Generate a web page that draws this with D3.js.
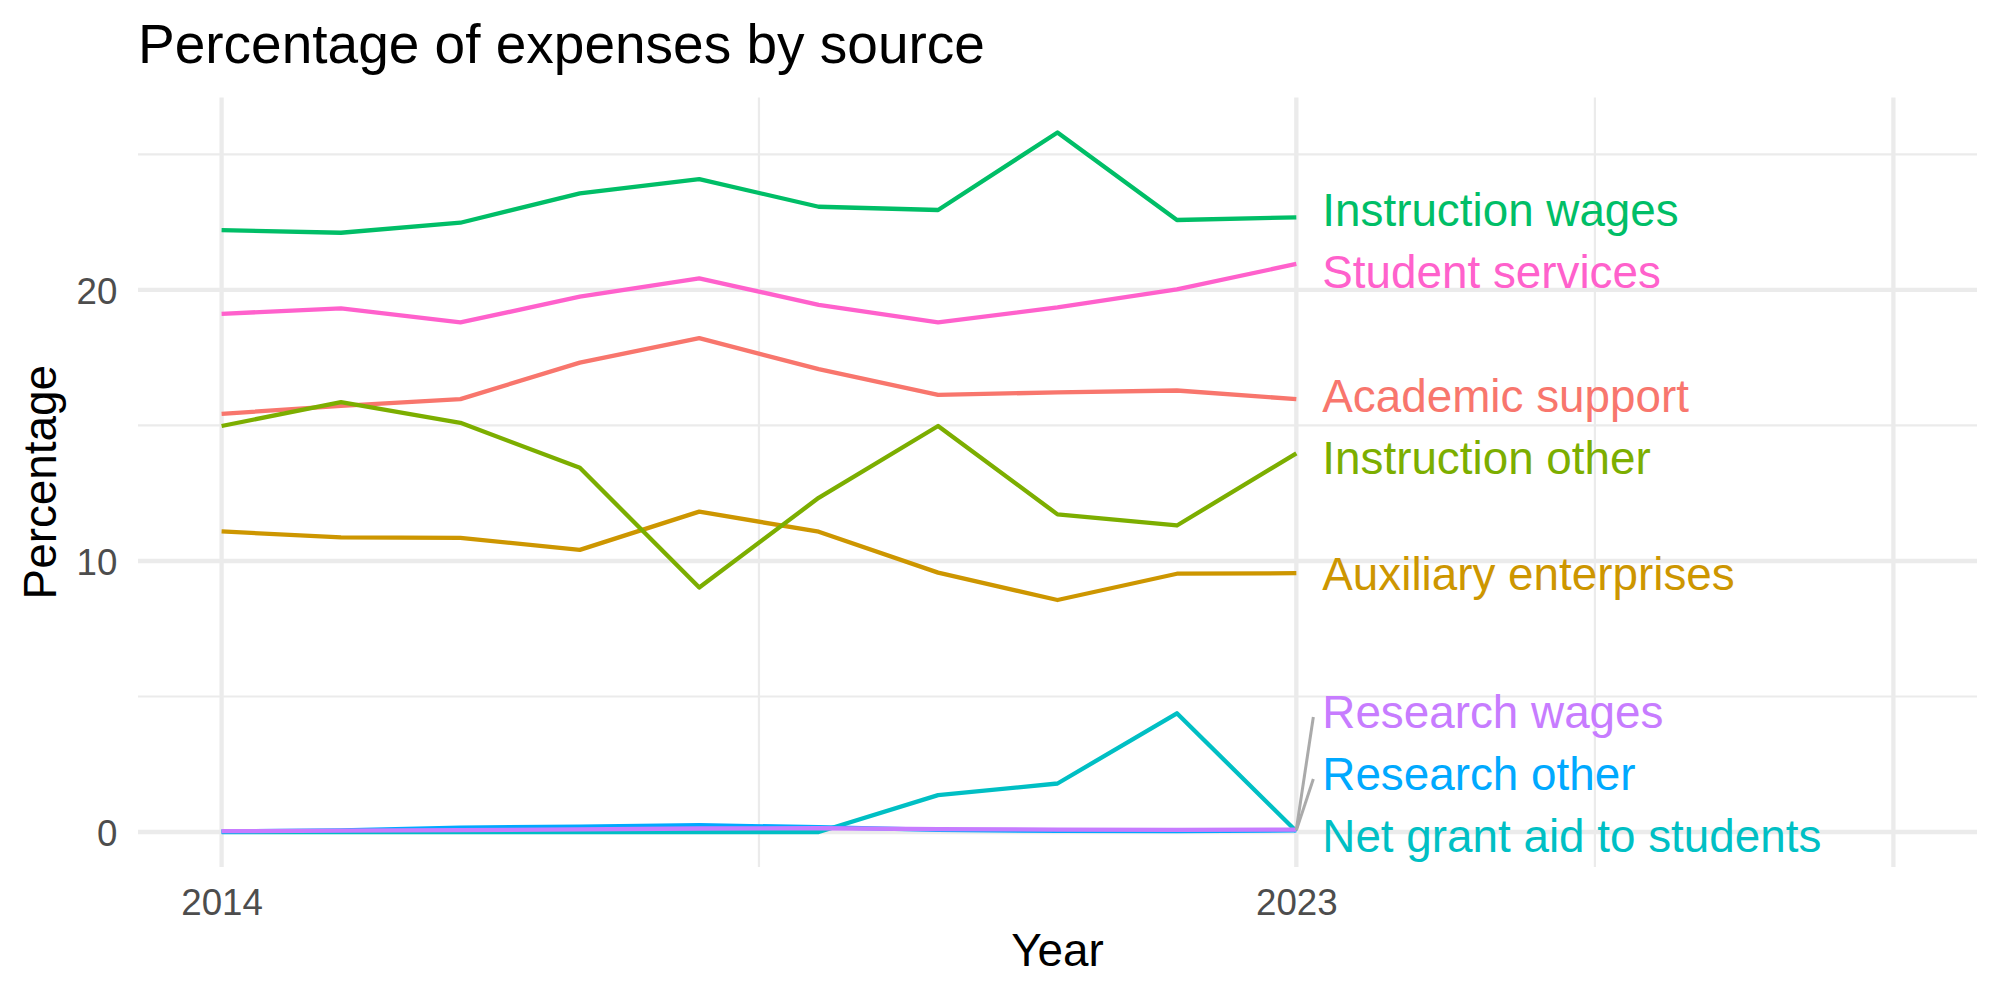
<!DOCTYPE html>
<html lang="en">

<head>
    <meta charset="UTF-8">
    <title>Percentage of expenses by source</title>
    <script src="https://d3js.org/d3.v7.min.js"></script>
    <style>
        body { margin: 0; background: #fff; }
        text { font-family: "Liberation Sans", Arial, Helvetica, sans-serif; }
    </style>
</head>

<body>
    <div id="chart"></div>
    <script>

        // data
        const years = [2014, 2015, 2016, 2017, 2018, 2019, 2020, 2021, 2022, 2023];
        const categories = ["Academic support", "Auxiliary enterprises", "Instruction other", "Instruction wages",
            "Net grant aid to students", "Research other", "Research wages", "Student services"];

        const academicSupport = [15.43, 15.72, 15.97, 17.32, 18.22, 17.08, 16.13, 16.22, 16.29, 15.97];
        const auxiliaryEnterprises = [11.09, 10.87, 10.85, 10.41, 11.82, 11.08, 9.57, 8.56, 9.53, 9.55];
        const instructionOther = [14.98, 15.86, 15.10, 13.44, 9.02, 12.33, 14.98, 11.72, 11.31, 13.97];
        const instructionWages = [22.21, 22.11, 22.48, 23.56, 24.09, 23.07, 22.95, 25.81, 22.58, 22.68];
        const netGrantAid = [0, 0, 0, 0, 0, 0, 1.36, 1.79, 4.38, 0.03];
        const researchOther = [0.02, 0.06, 0.16, 0.20, 0.25, 0.18, 0.08, 0.04, 0.03, 0.06];
        const researchWages = [0.03, 0.05, 0.07, 0.10, 0.13, 0.14, 0.11, 0.09, 0.08, 0.09];
        const studentServices = [19.12, 19.32, 18.80, 19.75, 20.43, 19.45, 18.80, 19.36, 20.02, 20.96];

        const seriesValues = [academicSupport, auxiliaryEnterprises, instructionOther, instructionWages,
            netGrantAid, researchOther, researchWages, studentServices];

        // ggplot hue palette
        const palette = ["#F8766D", "#CD9600", "#7CAE00", "#00BE67", "#00BFC4", "#00A9FF", "#C77CFF", "#FF61CC"];

        const xLimits = [2014, 2028];
        const xBreaks = [2014, 2023, 2028];
        const xTickLabels = ["2014", "2023", ""];
        const xMinorBreaks = [2018.5, 2025.5];
        const yBreaks = [0, 10, 20];
        const yMinorBreaks = [5, 15, 25];

        // layout
        const width = 2000, height = 1000;
        const panel = { left: 138, right: 1977, top: 97.5, bottom: 867 };

        const series = categories.map((c, i) => ({ name: c, values: seriesValues[i] }));

        const expand = ([a, b]) => [a - (b - a) * 0.05, b + (b - a) * 0.05];

        const x = d3.scaleLinear().domain(expand(xLimits)).range([panel.left, panel.right]);
        const yMax = d3.max(seriesValues, v => d3.max(v));
        const y = d3.scaleLinear().domain(expand([0, yMax])).range([panel.bottom, panel.top]);
        const color = d3.scaleOrdinal().domain(categories).range(palette);

        const svg = d3.select("#chart")
            .append("svg")
            .attr("width", width)
            .attr("height", height);

        // grid lines (minor first, then major)
        const grid = svg.append("g");
        grid.selectAll(".ymin").data(yMinorBreaks).join("line")
            .attr("x1", panel.left).attr("x2", panel.right)
            .attr("y1", d => y(d)).attr("y2", d => y(d))
            .attr("stroke", "#EBEBEB").attr("stroke-width", 2.2);
        grid.selectAll(".xmin").data(xMinorBreaks).join("line")
            .attr("y1", panel.top).attr("y2", panel.bottom)
            .attr("x1", d => x(d)).attr("x2", d => x(d))
            .attr("stroke", "#EBEBEB").attr("stroke-width", 2.2);
        grid.append("g").selectAll("line").data(yBreaks).join("line")
            .attr("x1", panel.left).attr("x2", panel.right)
            .attr("y1", d => y(d)).attr("y2", d => y(d))
            .attr("stroke", "#EBEBEB").attr("stroke-width", 4.3);
        grid.append("g").selectAll("line").data(xBreaks).join("line")
            .attr("y1", panel.top).attr("y2", panel.bottom)
            .attr("x1", d => x(d)).attr("x2", d => x(d))
            .attr("stroke", "#EBEBEB").attr("stroke-width", 4.3);

        // axes (no ticks, no domain line, like theme_minimal)
        const yAxis = svg.append("g")
            .attr("transform", `translate(${panel.left},0)`)
            .call(d3.axisLeft(y).tickValues(yBreaks).tickSize(0).tickPadding(20.7));
        const xAxis = svg.append("g")
            .attr("transform", `translate(0,${panel.bottom})`)
            .call(d3.axisBottom(x).tickValues(xBreaks).tickSize(0).tickPadding(22)
                .tickFormat((d, i) => xTickLabels[i]));
        [yAxis, xAxis].forEach(a => {
            a.select(".domain").remove();
            a.selectAll("text")
                .style("font-family", '"Liberation Sans", Arial, sans-serif')
                .style("font-size", "36.7px")
                .attr("fill", "#4D4D4D");
        });
        yAxis.selectAll("text").attr("dy", "0.38em");

        // lines
        const line = d3.line()
            .x((d, i) => x(years[i]))
            .y(d => y(d));

        svg.append("g").selectAll("path").data(series).join("path")
            .attr("d", d => line(d.values))
            .attr("fill", "none")
            .attr("stroke", d => color(d.name))
            .attr("stroke-width", 4.3)
            .attr("stroke-linejoin", "round");

        // end labels, spread apart vertically like ggrepel
        const gap = 62;
        const lastYear = years[years.length - 1];
        const ends = series.map(s => ({ name: s.name, target: y(s.values[s.values.length - 1]) }))
            .sort((a, b) => a.target - b.target);

        const lo = panel.top + gap / 2, hi = panel.bottom - gap / 2;
        const blocks = [];
        const place = b => Math.max(lo, Math.min(hi - (b.size - 1) * gap, b.sum / b.size + b.first * gap));
        ends.forEach((e, i) => {
            blocks.push({ first: i, size: 1, sum: e.target - i * gap });
            while (blocks.length > 1) {
                const cur = blocks[blocks.length - 1], prev = blocks[blocks.length - 2];
                if (place(cur) - (place(prev) + (prev.size - 1) * gap) >= gap) break;
                prev.size += cur.size;
                prev.sum += cur.sum;
                blocks.pop();
            }
        });
        blocks.forEach(b => {
            const s = place(b);
            for (let k = 0; k < b.size; k++) ends[b.first + k].pos = s + k * gap;
        });

        const labelX = x(lastYear) + 26;

        svg.append("g").selectAll("line")
            .data(ends.filter(e => Math.abs(e.pos - e.target) > gap / 2))
            .join("line")
            .attr("x1", x(lastYear)).attr("y1", d => d.target)
            .attr("x2", x(lastYear) + 17).attr("y2", d => d.pos + 5)
            .attr("stroke", "#AAAAAA")
            .attr("stroke-width", 3);

        svg.append("g").selectAll("text").data(ends).join("text")
            .attr("x", labelX)
            .attr("y", d => d.pos + 16.4)
            .attr("fill", d => color(d.name))
            .style("font-size", "45.8px")
            .text(d => d.name);

        // titles
        svg.append("text")
            .attr("x", panel.left).attr("y", 63)
            .style("font-size", "55px")
            .attr("fill", "#000")
            .text("Percentage of expenses by source");

        svg.append("text")
            .attr("x", (panel.left + panel.right) / 2).attr("y", 966)
            .attr("text-anchor", "middle")
            .style("font-size", "45.8px")
            .text("Year");

        svg.append("text")
            .attr("transform", `translate(56,${(panel.top + panel.bottom) / 2}) rotate(-90)`)
            .attr("text-anchor", "middle")
            .style("font-size", "45.8px")
            .text("Percentage");
    </script>
</body>

</html>
